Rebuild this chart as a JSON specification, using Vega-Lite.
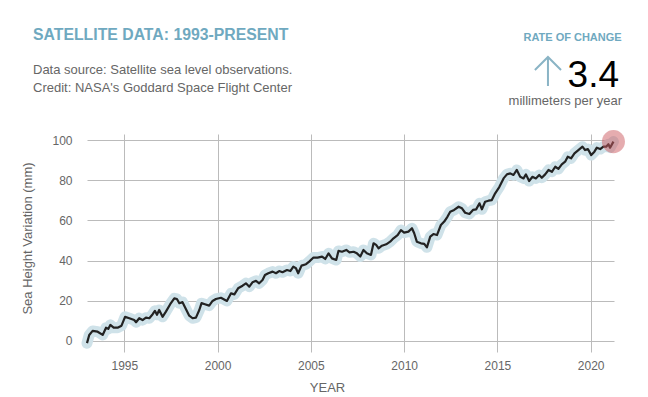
{
  "$schema": "https://vega.github.io/schema/vega-lite/v6.json",
  "width": 527,
  "height": 218,
  "autosize": {"type": "none"},
  "padding": {"left": 87, "top": 134, "right": 34, "bottom": 45},
  "background": "white",
  "config": {"view": {"stroke": null}, "font": "Liberation Sans"},
  "title": {
    "text": "SATELLITE DATA: 1993-PRESENT",
    "subtitle": ["Data source: Satellite sea level observations.", "Credit: NASA's Goddard Space Flight Center"],
    "anchor": "start",
    "frame": "group",
    "dx": -54,
    "color": "#6fa9c0",
    "fontSize": 15.8,
    "fontWeight": "bold",
    "font": "Liberation Sans",
    "subtitleFont": "Liberation Sans",
    "subtitleColor": "#666666",
    "subtitleFontSize": 13,
    "subtitleLineHeight": 18,
    "subtitlePadding": 20,
    "offset": -64
  },
  "datasets": {
    "sea": [
      {"t": 1993.0, "v": -1.1}, {"t": 1993.12, "v": 3}, {"t": 1993.3, "v": 5}, {"t": 1993.57, "v": 4.6}, {"t": 1993.84, "v": 3},
      {"t": 1994.02, "v": 6.6}, {"t": 1994.14, "v": 6}, {"t": 1994.25, "v": 8}, {"t": 1994.43, "v": 6.6}, {"t": 1994.64, "v": 6.6},
      {"t": 1994.85, "v": 7.6}, {"t": 1995.04, "v": 12}, {"t": 1995.27, "v": 11.3}, {"t": 1995.53, "v": 10.4}, {"t": 1995.63, "v": 9.3},
      {"t": 1995.8, "v": 11.3}, {"t": 1995.98, "v": 10.4}, {"t": 1996.16, "v": 11.6}, {"t": 1996.34, "v": 11.3}, {"t": 1996.52, "v": 13.3},
      {"t": 1996.64, "v": 15}, {"t": 1996.75, "v": 13}, {"t": 1996.87, "v": 15.4}, {"t": 1997.05, "v": 12}, {"t": 1997.23, "v": 14.6},
      {"t": 1997.46, "v": 18.3}, {"t": 1997.68, "v": 21.2}, {"t": 1997.82, "v": 20.9}, {"t": 1997.95, "v": 18.8}, {"t": 1998.12, "v": 19.3},
      {"t": 1998.3, "v": 15.9}, {"t": 1998.48, "v": 12.6}, {"t": 1998.66, "v": 11.3}, {"t": 1998.84, "v": 11.6}, {"t": 1999.02, "v": 15.4},
      {"t": 1999.14, "v": 18.8}, {"t": 1999.32, "v": 18.3}, {"t": 1999.55, "v": 17.6}, {"t": 1999.73, "v": 19.9}, {"t": 1999.91, "v": 20.9},
      {"t": 2000.18, "v": 21.5}, {"t": 2000.5, "v": 19.9}, {"t": 2000.72, "v": 23.7}, {"t": 2000.9, "v": 23.2}, {"t": 2001.1, "v": 26.2},
      {"t": 2001.34, "v": 27.5}, {"t": 2001.52, "v": 28.7}, {"t": 2001.7, "v": 27}, {"t": 2001.87, "v": 29.2}, {"t": 2002.06, "v": 29.9},
      {"t": 2002.23, "v": 28.7}, {"t": 2002.41, "v": 30.3}, {"t": 2002.54, "v": 32.8}, {"t": 2002.72, "v": 33.7}, {"t": 2002.95, "v": 34.5},
      {"t": 2003.13, "v": 33.7}, {"t": 2003.3, "v": 34.8}, {"t": 2003.48, "v": 34.2}, {"t": 2003.72, "v": 35.3}, {"t": 2003.9, "v": 34.8},
      {"t": 2004.06, "v": 37}, {"t": 2004.2, "v": 36.2}, {"t": 2004.32, "v": 33.7}, {"t": 2004.5, "v": 37.5}, {"t": 2004.74, "v": 38.2},
      {"t": 2004.91, "v": 39.5}, {"t": 2005.14, "v": 41.5}, {"t": 2005.36, "v": 41.5}, {"t": 2005.6, "v": 42}, {"t": 2005.77, "v": 40.8},
      {"t": 2005.95, "v": 43.6}, {"t": 2006.13, "v": 41.1}, {"t": 2006.36, "v": 40.3}, {"t": 2006.48, "v": 44.8}, {"t": 2006.67, "v": 44.4},
      {"t": 2006.9, "v": 45.3}, {"t": 2007.07, "v": 44.1}, {"t": 2007.29, "v": 44.4}, {"t": 2007.47, "v": 43.6}, {"t": 2007.65, "v": 42},
      {"t": 2007.82, "v": 45.3}, {"t": 2008.0, "v": 43.6}, {"t": 2008.22, "v": 42.8}, {"t": 2008.36, "v": 48.6}, {"t": 2008.5, "v": 47.8},
      {"t": 2008.63, "v": 46.1}, {"t": 2008.81, "v": 47.4}, {"t": 2009.04, "v": 48.1}, {"t": 2009.25, "v": 49.4}, {"t": 2009.43, "v": 51.1},
      {"t": 2009.65, "v": 52.7}, {"t": 2009.83, "v": 55.2}, {"t": 2010.0, "v": 53.9}, {"t": 2010.23, "v": 54.4}, {"t": 2010.42, "v": 56.1},
      {"t": 2010.54, "v": 53.6}, {"t": 2010.68, "v": 49.4}, {"t": 2010.9, "v": 48.6}, {"t": 2011.08, "v": 48.3}, {"t": 2011.22, "v": 46.6},
      {"t": 2011.4, "v": 51.9}, {"t": 2011.57, "v": 53.2}, {"t": 2011.76, "v": 52.7}, {"t": 2011.97, "v": 57.7}, {"t": 2012.15, "v": 59.4},
      {"t": 2012.32, "v": 61.8}, {"t": 2012.47, "v": 64.3}, {"t": 2012.68, "v": 65.2}, {"t": 2012.92, "v": 66.8}, {"t": 2013.1, "v": 66},
      {"t": 2013.27, "v": 63.8}, {"t": 2013.5, "v": 63.2}, {"t": 2013.69, "v": 65.2}, {"t": 2013.86, "v": 65.5}, {"t": 2014.04, "v": 68.5},
      {"t": 2014.17, "v": 65.5}, {"t": 2014.34, "v": 69.3}, {"t": 2014.52, "v": 69.8}, {"t": 2014.7, "v": 70.1}, {"t": 2014.88, "v": 73.5},
      {"t": 2015.1, "v": 76.6}, {"t": 2015.33, "v": 80.9}, {"t": 2015.51, "v": 82.9}, {"t": 2015.69, "v": 83.4}, {"t": 2015.86, "v": 82.6},
      {"t": 2016.04, "v": 85.1}, {"t": 2016.22, "v": 81.7}, {"t": 2016.4, "v": 80.9}, {"t": 2016.53, "v": 82.9}, {"t": 2016.7, "v": 79.6},
      {"t": 2016.88, "v": 81.7}, {"t": 2017.06, "v": 80.9}, {"t": 2017.24, "v": 82.6}, {"t": 2017.38, "v": 81.2}, {"t": 2017.56, "v": 82.9},
      {"t": 2017.74, "v": 85.1}, {"t": 2017.92, "v": 84.2}, {"t": 2018.1, "v": 86.7}, {"t": 2018.27, "v": 85.6}, {"t": 2018.45, "v": 87.9},
      {"t": 2018.63, "v": 89.2}, {"t": 2018.77, "v": 91.7}, {"t": 2018.95, "v": 90.9}, {"t": 2019.13, "v": 93.4}, {"t": 2019.34, "v": 95},
      {"t": 2019.56, "v": 96.7}, {"t": 2019.7, "v": 95}, {"t": 2019.85, "v": 95.5}, {"t": 2020.03, "v": 92.5}, {"t": 2020.2, "v": 94.2},
      {"t": 2020.33, "v": 96.2}, {"t": 2020.51, "v": 95.5}, {"t": 2020.68, "v": 96.7}, {"t": 2020.83, "v": 96.7}, {"t": 2020.95, "v": 97.9},
      {"t": 2021.04, "v": 96.2}, {"t": 2021.22, "v": 99.2}
    ],
    "rate": [
      {"part": "heading", "label": "RATE OF CHANGE"},
      {"part": "value", "label": "3.4"},
      {"part": "arrow", "label": "up"},
      {"part": "unit", "label": "millimeters per year"}
    ]
  },
  "layer": [
    {"data": {"name": "sea"},
     "mark": {"type": "line", "color": "#cfe2e9", "strokeWidth": 11, "strokeJoin": "round", "strokeCap": "round"},
     "encoding": {
      "x": {
        "field": "t", "type": "quantitative",
        "scale": {"domain": [1993, 2021.25], "nice": false, "zero": false},
        "axis": {
          "title": "YEAR", "values": [1995, 2000, 2005, 2010, 2015, 2020], "format": "d",
          "grid": true, "gridColor": "#bbbbbb", "domain": false, "ticks": false,
          "labelPadding": 8, "labelFontSize": 12, "labelColor": "#666666", "labelFont": "Liberation Sans",
          "titleFontSize": 13, "titleFontWeight": "normal", "titleColor": "#666666", "titleFont": "Liberation Sans",
          "titleX": 240, "titlePadding": 10
        }
      },
      "y": {
        "field": "v", "type": "quantitative",
        "scale": {"domain": [-5.5, 103], "nice": false, "zero": false},
        "axis": {
          "title": "Sea Height Variation (mm)", "values": [0, 20, 40, 60, 80, 100],
          "grid": true, "gridColor": "#bbbbbb", "domain": false, "ticks": false,
          "labelPadding": 15, "labelFontSize": 12, "labelColor": "#666666", "labelFont": "Liberation Sans",
          "titleFontSize": 13, "titleFontWeight": "normal", "titleColor": "#666666", "titleFont": "Liberation Sans",
          "titleX": -60, "titleY": 104, "titleBaseline": "middle", "titleAlign": "center", "titleAngle": 270
        }
      }
     }},
    {"data": {"name": "sea"},
     "mark": {"type": "line", "color": "#222222", "strokeWidth": 2.2, "strokeJoin": "round"},
     "encoding": {"x": {"field": "t", "type": "quantitative"}, "y": {"field": "v", "type": "quantitative"}}},
    {"data": {"name": "sea"}, "transform": [{"filter": "datum.t > 2021.2"}],
     "mark": {"type": "point", "filled": true, "size": 530, "color": "#cc5a60", "opacity": 0.5},
     "encoding": {"x": {"field": "t", "type": "quantitative"}, "y": {"field": "v", "type": "quantitative"}}},
    {"data": {"name": "rate"}, "transform": [{"filter": "datum.part == 'heading'"}],
     "mark": {"type": "text", "align": "right", "baseline": "alphabetic", "fontSize": 11, "fontWeight": "bold", "color": "#6fa9c0", "font": "Liberation Sans"},
     "encoding": {"x": {"datum": 2021.66, "type": "quantitative"}, "y": {"datum": 149.4, "type": "quantitative"}, "text": {"field": "label"}}},
    {"data": {"name": "rate"}, "transform": [{"filter": "datum.part == 'value'"}],
     "mark": {"type": "text", "align": "right", "baseline": "alphabetic", "fontSize": 37, "color": "#000000", "font": "Liberation Sans"},
     "encoding": {"x": {"datum": 2021.52, "type": "quantitative"}, "y": {"datum": 126.4, "type": "quantitative"}, "text": {"field": "label"}}},
    {"data": {"name": "rate"}, "transform": [{"filter": "datum.part == 'arrow'"}],
     "mark": {"type": "point", "shape": "M -0.9 -0.1 L 0 -1 L 0.9 -0.1 M 0 -1 L 0 1", "size": 841, "filled": false, "stroke": "#8ab4c5", "strokeWidth": 2, "opacity": 1},
     "encoding": {"x": {"datum": 2017.71, "type": "quantitative"}, "y": {"datum": 134.1, "type": "quantitative"}}},
    {"data": {"name": "rate"}, "transform": [{"filter": "datum.part == 'unit'"}],
     "mark": {"type": "text", "align": "right", "baseline": "alphabetic", "fontSize": 13, "color": "#666666", "font": "Liberation Sans"},
     "encoding": {"x": {"datum": 2021.68, "type": "quantitative"}, "y": {"datum": 117.4, "type": "quantitative"}, "text": {"field": "label"}}}
  ]
}
